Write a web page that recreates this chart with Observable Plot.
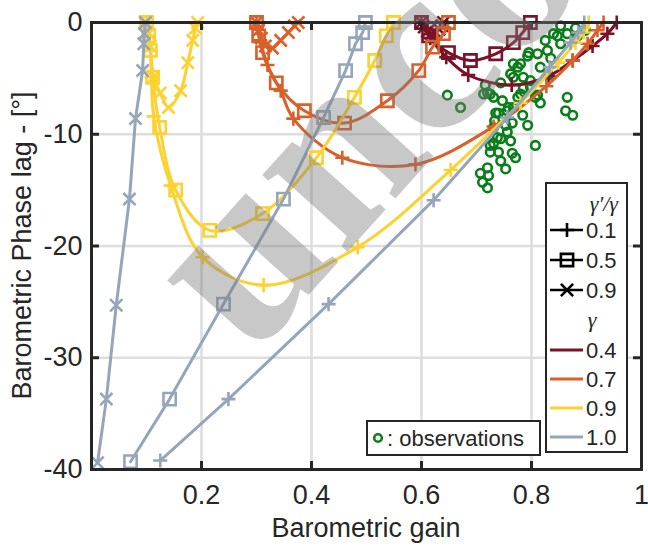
<!DOCTYPE html>
<html><head><meta charset="utf-8">
<script src="https://cdn.jsdelivr.net/npm/d3@7"></script>
<script src="https://cdn.jsdelivr.net/npm/@observablehq/plot@0.6"></script>
<style>body{margin:0;background:#fff}#chart{width:648px;height:547px}</style>
</head><body><div id="chart"></div>
<script>
// ---- axis ticks ----
const xTickValues = [0.2, 0.4, 0.6, 0.8, 1];
const yTickValues = [0, -10, -20, -30, -40];
const innerXTicks = [0.2, 0.4, 0.6, 0.8];
const innerYTicks = [-10, -20, -30];

// ---- legend categories ----
const ratioLabels = ["0.1", "0.5", "0.9"];
const gammaLabels = ["0.4", "0.7", "0.9", "1.0"];
const gammaColors = ["#7a1228", "#d9602a", "#fdd12f", "#95a5ba"];

// ---- model curves: [barometric gain, phase lag in degrees] ----
// gamma = 0.4
const g04_r01 = [[0.600,0],[0.616,-1.4],[0.645,-3.1],[0.685,-4.7],[0.764,-5.6],[0.831,-4.8],[0.875,-3.4],[0.911,-2.1],[0.938,-1.0],[0.955,0]];
const g04_r05 = [[0.600,0],[0.613,-1.2],[0.649,-2.7],[0.689,-3.4],[0.735,-2.8],[0.767,-1.8],[0.784,-0.9],[0.798,0]];
const g04_r09 = [[0.600,0],[0.605,-0.4],[0.611,-0.8],[0.618,-1.0],[0.626,-0.9],[0.632,-0.6],[0.637,-0.3],[0.640,0]];
// gamma = 0.7
const g07_r01 = [[0.300,0],[0.307,-1.6],[0.320,-3.8],[0.344,-6.1],[0.367,-8.6],[0.456,-12.1],[0.589,-12.7],[0.731,-9.3],[0.827,-5.7],[0.875,-3.4],[0.902,-1.9],[0.920,-0.7],[0.931,0]];
const g07_r05 = [[0.300,0],[0.304,-1.2],[0.311,-2.7],[0.336,-5.4],[0.387,-7.9],[0.460,-9.0],[0.538,-7.0],[0.595,-4.3],[0.620,-2.2],[0.640,-1.0],[0.649,0]];
const g07_r09 = [[0.300,0],[0.304,-0.7],[0.309,-1.4],[0.316,-2.1],[0.329,-2.3],[0.344,-1.6],[0.358,-0.9],[0.369,-0.3],[0.376,0]];
// gamma = 0.9
const g09_r01 = [[0.100,0],[0.104,-1.2],[0.107,-2.5],[0.109,-4.9],[0.113,-8.4],[0.144,-14.6],[0.202,-21.0],[0.313,-23.5],[0.484,-20.1],[0.653,-13.2],[0.780,-7.2],[0.849,-3.6],[0.880,-1.8],[0.895,-0.9],[0.904,0]];
const g09_r05 = [[0.100,0],[0.104,-1.2],[0.107,-2.5],[0.111,-4.9],[0.124,-9.4],[0.153,-15.0],[0.215,-18.6],[0.311,-17.1],[0.409,-12.1],[0.478,-6.7],[0.515,-3.4],[0.536,-1.2],[0.549,0]];
const g09_r09 = [[0.100,0],[0.104,-1.0],[0.107,-2.1],[0.113,-4.9],[0.125,-6.3],[0.140,-7.6],[0.162,-6.1],[0.175,-3.6],[0.184,-1.6],[0.189,-0.5],[0.193,0]];
// gamma = 1.0
const g10_r01 = [[0.125,-39.2],[0.249,-33.7],[0.431,-25.2],[0.622,-15.9],[0.756,-8.5],[0.833,-4.0],[0.871,-1.8],[0.885,-0.9],[0.896,0]];
const g10_r05 = [[0.071,-39.3],[0.142,-33.7],[0.240,-25.2],[0.349,-15.8],[0.422,-8.5],[0.462,-4.3],[0.480,-1.9],[0.493,-0.9],[0.498,0]];
const g10_r09 = [[0.011,-39.4],[0.027,-33.7],[0.045,-25.3],[0.069,-15.8],[0.080,-8.6],[0.093,-4.3],[0.095,-1.9],[0.096,-1.0],[0.098,0]];

// ---- observations: [gain, phase] ----
const obsGain  = [0.647,0.671,0.713,0.725,0.716,0.735,0.758,0.775,0.785,0.798,0.811,0.816,0.765,0.756,0.744,0.731,0.725,0.740,0.765,0.771,0.720,0.753,0.722,0.711,0.720,0.807,0.865,0.862,0.875,0.775,0.816,0.767,0.795,0.811,0.847,0.865,0.884,0.853,0.829,0.780,0.785,0.762,0.744,0.720,0.731,0.767,0.756,0.740,0.798,0.807,0.780,0.840,0.853,0.793,0.767,0.731,0.738,0.725,0.707,0.762,0.753,0.825,0.880,0.898,0.835,0.831,0.747,0.784,0.793,0.744,0.733];
const obsPhase = [-6.5,-7.6,-6.4,-6.4,-5.6,-8.1,-7.6,-6.7,-5.9,-5.2,-6.5,-7.2,-9.0,-9.8,-10.4,-10.8,-11.6,-11.6,-11.7,-12.1,-13.0,-13.1,-13.7,-14.3,-14.8,-11.0,-6.7,-7.9,-8.3,-4.0,-4.0,-4.9,-2.7,-2.8,-1.2,-1.0,-1.2,-1.9,-2.5,-3.7,-4.9,-4.6,-5.4,-6.3,-6.7,-7.6,-7.9,-8.1,-5.8,-6.7,-6.4,-1.0,-0.3,-3.0,-3.7,-9.4,-10.3,-11.0,-13.5,-10.6,-9.2,-1.6,-0.5,-0.7,-3.2,-4.7,-7.0,-8.3,-9.2,-12.4,-8.8];
const observations = obsGain.map((g, i) => ({gain: g, phase: obsPhase[i]}));

const curveSets = [
  [g04_r01, g04_r05, g04_r09],
  [g07_r01, g07_r05, g07_r09],
  [g09_r01, g09_r05, g09_r09],
  [g10_r01, g10_r05, g10_r09]
];
const symbols = ["plus", "square2", "times"];
const symbolR = [4.6, 7.8, 5.6];

const curveMarks = [];
curveSets.forEach((set, gi) => {
  set.forEach((data, ri) => {
    curveMarks.push(Plot.line(data, {x: d => d[0], y: d => d[1], stroke: gammaColors[gi], strokeWidth: 3,
      curve: gi === 3 ? "linear" : "catmull-rom"}));
    curveMarks.push(Plot.dot(data, {x: d => d[0], y: d => d[1], symbol: symbols[ri], r: symbolR[ri],
      stroke: gammaColors[gi], strokeWidth: 2.6, fill: "none"}));
  });
});

const FONT = "'Liberation Sans', Arial, Helvetica, sans-serif";
const W = 648, H = 547, ML = 91, MR = 7, MT = 22, MB = 78;
const fw = W - ML - MR, fh = H - MT - MB;

const plot = Plot.plot({
  width: W, height: H,
  marginLeft: ML, marginRight: MR, marginTop: MT, marginBottom: MB,
  style: {fontFamily: FONT, fontSize: "27px", color: "#262626", background: "white", overflow: "visible"},
  x: {domain: [0, 1]},
  y: {domain: [-40, 0]},
  marks: [
    Plot.gridX(innerXTicks, {stroke: "#dedede", strokeOpacity: 1, strokeWidth: 2.6}),
    Plot.gridY(innerYTicks, {stroke: "#dedede", strokeOpacity: 1, strokeWidth: 2.6}),
    Plot.dot(observations, {x: "gain", y: "phase", r: 4.3, stroke: "#0b7d1b", strokeWidth: 2.6, fill: "none"}),
    ...curveMarks,
    Plot.axisX(xTickValues, {tickSize: 0, tickPadding: 15, tickFormat: d => String(d), label: null, fill: "#262626"}),
    Plot.axisY(yTickValues, {tickSize: 0, tickPadding: 9, tickFormat: d => String(d), label: null, fill: "#262626"}),
    Plot.tickX(innerXTicks, {x: d => d, insetTop: fh - 8, stroke: "#262626", strokeWidth: 3}),
    Plot.tickX(innerXTicks, {x: d => d, insetBottom: fh - 8, stroke: "#262626", strokeWidth: 3}),
    Plot.tickY(innerYTicks, {y: d => d, insetRight: fw - 8, stroke: "#262626", strokeWidth: 3}),
    Plot.tickY(innerYTicks, {y: d => d, insetLeft: fw - 8, stroke: "#262626", strokeWidth: 3}),
    Plot.frame({stroke: "#262626", strokeWidth: 3})
  ]
});
document.getElementById("chart").appendChild(plot);

const svg = d3.select(plot);
// axis titles
svg.append("text").attr("x", ML + fw / 2).attr("y", 537).attr("text-anchor", "middle")
  .attr("font-family", FONT).attr("font-size", 27).attr("fill", "#262626").text("Barometric gain");
svg.append("text").attr("transform", `translate(31,${MT + fh / 2}) rotate(-90)`).attr("text-anchor", "middle")
  .attr("font-family", FONT).attr("font-size", 27).attr("fill", "#262626").text("Barometric Phase lag - [°]");

// watermark
svg.append("text").attr("transform", "translate(250,360) rotate(-48)").attr("text-anchor", "start")
  .attr("font-family", "'Liberation Serif', 'DejaVu Serif', serif").attr("font-weight", "bold")
  .attr("font-size", 250).attr("fill", "#7d7d7d").attr("fill-opacity", 0.42).text("uncorrected");

// main legend
const lg = svg.append("g").attr("font-family", FONT).attr("font-size", 22).attr("fill", "#262626")
  .attr("text-anchor", "start");
lg.append("rect").attr("x", 546).attr("y", 183).attr("width", 81).attr("height", 269)
  .attr("fill", "white").attr("stroke", "#262626").attr("stroke-width", 2);
lg.append("text").attr("x", 618).attr("y", 211).attr("text-anchor", "end")
  .attr("font-family", "'Liberation Serif', serif").attr("font-style", "italic").attr("font-size", 22).text("γ′/γ");
const rowY = [230, 260, 290];
const sym = d3.scaleOrdinal(symbols, [d3.symbolPlus, d3.symbolSquare2, d3.symbolTimes]);
ratioLabels.forEach((lab, i) => {
  lg.append("line").attr("x1", 550).attr("x2", 583).attr("y1", rowY[i]).attr("y2", rowY[i])
    .attr("stroke", "#000").attr("stroke-width", 2.6);
  const s = d3.symbol(sym(symbols[i]), Math.PI * symbolR[i] * symbolR[i]);
  lg.append("path").attr("d", s()).attr("transform", `translate(567,${rowY[i]})`)
    .attr("fill", "none").attr("stroke", "#000").attr("stroke-width", 2.6);
  lg.append("text").attr("x", 586).attr("y", rowY[i]).attr("dy", "0.36em").attr("text-anchor", "start").text(lab);
});
lg.append("text").attr("x", 592).attr("y", 327).attr("text-anchor", "middle")
  .attr("font-family", "'Liberation Serif', serif").attr("font-style", "italic").attr("font-size", 22).text("γ");
const gRowY = [350, 379, 408, 437];
gammaLabels.forEach((lab, i) => {
  lg.append("line").attr("x1", 550).attr("x2", 583).attr("y1", gRowY[i]).attr("y2", gRowY[i])
    .attr("stroke", gammaColors[i]).attr("stroke-width", 3);
  lg.append("text").attr("x", 586).attr("y", gRowY[i]).attr("dy", "0.36em").attr("text-anchor", "start").text(lab);
});

// observations legend
const og = svg.append("g").attr("font-family", FONT).attr("font-size", 22).attr("fill", "#262626")
  .attr("text-anchor", "start");
og.append("rect").attr("x", 367).attr("y", 421).attr("width", 173).attr("height", 34)
  .attr("fill", "white").attr("stroke", "#262626").attr("stroke-width", 2);
og.append("circle").attr("cx", 378).attr("cy", 438).attr("r", 3.8)
  .attr("fill", "none").attr("stroke", "#0b7d1b").attr("stroke-width", 2.6);
og.append("text").attr("x", 387).attr("y", 438).attr("dy", "0.36em").attr("text-anchor", "start").text(": observations");
</script>
</body></html>
